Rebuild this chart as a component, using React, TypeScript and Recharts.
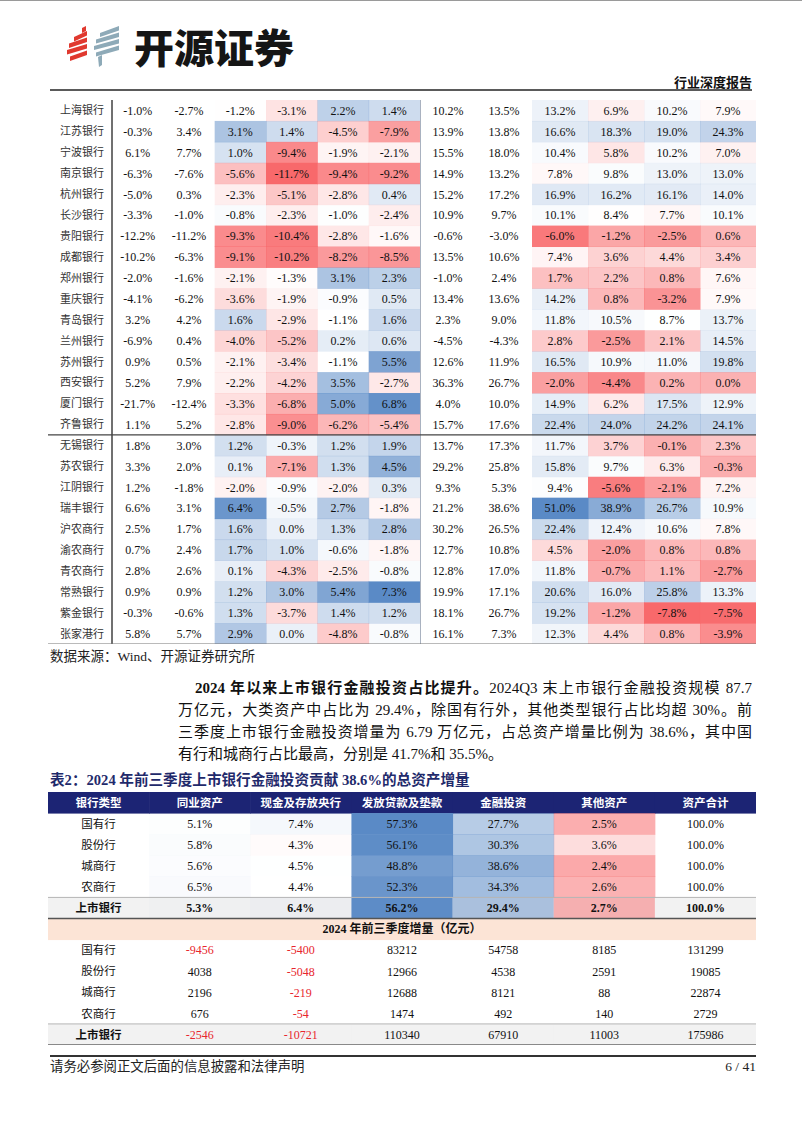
import React from "react";
import { ReferenceLine, Scatter, ScatterChart, XAxis, YAxis } from "recharts";

// ---- 表1（续）：上市银行指标，左右两个色阶区块 ----
const banks = [
  "上海银行", "江苏银行", "宁波银行", "南京银行", "杭州银行", "长沙银行", "贵阳银行", "成都银行",
  "郑州银行", "重庆银行", "青岛银行", "兰州银行", "苏州银行", "西安银行", "厦门银行", "齐鲁银行",
  "无锡银行", "苏农银行", "江阴银行", "瑞丰银行", "沪农商行", "渝农商行", "青农商行", "常熟银行",
  "紫金银行", "张家港行",
];

const l1 = [-1.0, -0.3, 6.1, -6.3, -5.0, -3.3, -12.2, -10.2, -2.0, -4.1, 3.2, -6.9, 0.9, 5.2, -21.7, 1.1, 1.8, 3.3, 1.2, 6.6, 2.5, 0.7, 2.8, 0.9, -0.3, 5.8];
const l2 = [-2.7, 3.4, 7.7, -7.6, 0.3, -1.0, -11.2, -6.3, -1.6, -6.2, 4.2, 0.4, 0.5, 7.9, -12.4, 5.2, 3.0, 2.0, -1.8, 3.1, 1.7, 2.4, 2.6, 0.9, -0.6, 5.7];
const l3 = [-1.2, 3.1, 1.0, -5.6, -2.3, -0.8, -9.3, -9.1, -2.1, -3.6, 1.6, -4.0, -2.1, -2.2, -3.3, -2.8, 1.2, 0.1, -2.0, 6.4, 1.6, 1.7, 0.1, 1.2, 1.3, 2.9];
const l4 = [-3.1, 1.4, -9.4, -11.7, -5.1, -2.3, -10.4, -10.2, -1.3, -1.9, -2.9, -5.2, -3.4, -4.2, -6.8, -9.0, -0.3, -7.1, -0.9, -0.5, 0.0, 1.0, -4.3, 3.0, -3.7, 0.0];
const l5 = [2.2, -4.5, -1.9, -9.4, -2.8, -1.0, -2.8, -8.2, 3.1, -0.9, -1.1, 0.2, -1.1, 3.5, 5.0, -6.2, 1.2, 1.3, -2.0, 2.7, 1.3, -0.6, -2.5, 5.4, 1.4, -4.8];
const l6 = [1.4, -7.9, -2.1, -9.2, 0.4, -2.4, -1.6, -8.5, 2.3, 0.5, 1.6, 0.6, 5.5, -2.7, 6.8, -5.4, 1.9, 4.5, 0.3, -1.8, 2.8, -1.8, -0.8, 7.3, 1.2, -0.8];

const r1 = [10.2, 13.9, 15.5, 14.9, 15.2, 10.9, -0.6, 13.5, -1.0, 13.4, 2.3, -4.5, 12.6, 36.3, 4.0, 15.7, 13.7, 29.2, 9.3, 21.2, 30.2, 12.7, 12.8, 19.9, 18.1, 16.1];
const r2 = [13.5, 13.8, 18.0, 13.2, 17.2, 9.7, -3.0, 10.6, 2.4, 13.6, 9.0, -4.3, 11.9, 26.7, 10.0, 17.6, 17.3, 25.8, 5.3, 38.6, 26.5, 10.8, 17.0, 17.1, 26.7, 7.3];
const r3 = [13.2, 16.6, 10.4, 7.8, 16.9, 10.1, -6.0, 7.4, 1.7, 14.2, 11.8, 2.8, 16.5, -2.0, 14.9, 22.4, 11.7, 15.8, 9.4, 51.0, 22.4, 4.5, 11.8, 20.6, 19.2, 12.3];
const r4 = [6.9, 18.3, 5.8, 9.8, 16.2, 8.4, -1.2, 3.6, 2.2, 0.8, 10.5, -2.5, 10.9, -4.4, 6.2, 24.0, 3.7, 9.7, -5.6, 38.9, 12.4, -2.0, -0.7, 16.0, -1.2, 4.4];
const r5 = [10.2, 19.0, 10.2, 13.0, 16.1, 7.7, -2.5, 4.4, 0.8, -3.2, 8.7, 2.1, 11.0, 0.2, 17.5, 24.2, -0.1, 6.3, -2.1, 26.7, 10.6, 0.8, 1.1, 25.8, -7.8, 0.8];
const r6 = [7.9, 24.3, 7.0, 13.0, 14.0, 10.1, 0.6, 3.4, 7.6, 7.9, 13.7, 14.5, 19.8, 0.0, 12.9, 24.1, 2.3, -0.3, 7.2, 10.9, 7.8, 0.8, -2.7, 13.3, -7.5, -3.9];

// ---- 表2 ----
const bankTypes = ["国有行", "股份行", "城商行", "农商行", "上市银行"];
const assetHeads = ["同业资产", "现金及存放央行", "发放贷款及垫款", "金融投资", "其他资产", "资产合计"];

const shareInterbank = [5.1, 5.8, 5.6, 6.5, 5.3];
const shareCash = [7.4, 4.3, 4.5, 4.4, 6.4];
const shareLoan = [57.3, 56.1, 48.8, 52.3, 56.2];
const shareInvest = [27.7, 30.3, 38.6, 34.3, 29.4];
const shareOther = [2.5, 3.6, 2.4, 2.6, 2.7];
const shareTotal = [100.0, 100.0, 100.0, 100.0, 100.0];

const incInterbank = [-9456, 4038, 2196, 676, -2546];
const incCash = [-5400, -5048, -219, -54, -10721];
const incLoan = [83212, 12966, 12688, 1474, 110340];
const incInvest = [54758, 4538, 8121, 492, 67910];
const incOther = [8185, 2591, 88, 140, 11003];
const incTotal = [131299, 19085, 22874, 2729, 175986];

const SERIF = '"Liberation Serif", "Noto Sans CJK SC", serif';
const CJK = '"Noto Sans CJK SC", sans-serif';
const NAVY = "#1c2474";
const PEACH = "#fce4d6";
const ZEBRA = "#f2f2f2";
const NEG_RED = "#e8262d";

function median(values: number[]) {
  const s = [...values].sort((a, b) => a - b);
  const m = Math.floor(s.length / 2);
  return s.length % 2 ? s[m] : (s[m - 1] + s[m]) / 2;
}

// 三色阶：红 - 白 - 蓝
function heat(v: number, lo: number, mid: number, hi: number) {
  if (v >= mid) {
    const t = hi === mid ? 0 : Math.min(1, (v - mid) / (hi - mid));
    return `rgba(90,138,198,${t.toFixed(3)})`;
  }
  const t = Math.min(1, (mid - v) / (mid - lo));
  return `rgba(248,105,107,${t.toFixed(3)})`;
}

type Cell1 = { row: number; col: number; v: number; fill: string | null };

function blockCells(cols: number[][], heatFrom: number): Cell1[] {
  const hv = cols.slice(heatFrom).flat();
  const lo = Math.min(...hv);
  const hi = Math.max(...hv);
  const mid = median(hv);
  return cols.flatMap((col, c) =>
    col.map((v, r) => ({ row: r, col: c, v, fill: c >= heatFrom ? heat(v, lo, mid, hi) : null }))
  );
}

const leftCells = blockCells([l1, l2, l3, l4, l5, l6], 2);
const rightCells = blockCells([r1, r2, r3, r4, r5, r6], 2);
const bankIdx = banks.map((_, i) => i);

const T1_TOP = 99.5;
const T1_H = 544.2;
const RH1 = T1_H / banks.length;
const NAME_W = 64;
const CWL = 308 / 6;
const CWR = 336 / 6;

const cellShape = (cw: number) => (p: any) => {
  const { cx, cy, payload } = p;
  return (
    <g>
      {payload.fill && (
        <rect x={cx - cw / 2} y={cy - RH1 / 2} width={cw + 0.5} height={RH1 + 0.5} fill={payload.fill} />
      )}
      <text x={cx} y={cy} dy="0.36em" textAnchor="middle" fontSize={12} fontFamily={SERIF} fill="#111">
        {payload.v.toFixed(1)}%
      </text>
    </g>
  );
};

// 表2 单元格
type Cell2 = {
  row: number;
  col: number;
  kind: "head" | "name" | "pct" | "num" | "title";
  text: string;
  total?: boolean;
  fill?: string | null;
  neg?: boolean;
};

const shareCols = [shareInterbank, shareCash, shareLoan, shareInvest, shareOther, shareTotal];
const incCols = [incInterbank, incCash, incLoan, incInvest, incOther, incTotal];
const T2_LO = 0.9;
const T2_MID = 4.4;
const t2Hi = Math.max(...shareCols.slice(0, 5).flat());

const t2Cells: Cell2[] = [];
t2Cells.push({ row: 0, col: -1, kind: "head", text: "银行类型" });
assetHeads.forEach((h, c) => t2Cells.push({ row: 0, col: c, kind: "head", text: h }));
bankTypes.forEach((b, i) => {
  const total = i === bankTypes.length - 1;
  t2Cells.push({ row: 1 + i, col: -1, kind: "name", text: b, total });
  shareCols.forEach((col, c) =>
    t2Cells.push({
      row: 1 + i,
      col: c,
      kind: "pct",
      text: `${col[i].toFixed(1)}%`,
      total,
      fill: c < 5 ? heat(col[i], T2_LO, T2_MID, t2Hi) : null,
    })
  );
});
t2Cells.push({ row: 6, col: 2, kind: "title", text: "2024 年前三季度增量（亿元）" });
bankTypes.forEach((b, i) => {
  const total = i === bankTypes.length - 1;
  t2Cells.push({ row: 7 + i, col: -1, kind: "name", text: b, total });
  incCols.forEach((col, c) =>
    t2Cells.push({ row: 7 + i, col: c, kind: "num", text: String(col[i]), total, neg: col[i] < 0 })
  );
});

const T2_W = 708;
const T2_H = 253;
const CW2 = T2_W / 7;
const RH2 = T2_H / 12;

function t2Shape(p: any) {
  const { cx, cy } = p;
  const d: Cell2 = p.payload;
  const x0 = cx - CW2 / 2;
  const y0 = cy - RH2 / 2;
  if (d.kind === "title") {
    return (
      <g>
        <rect x={cx - 3.5 * CW2} y={y0} width={7 * CW2} height={RH2 + 0.5} fill={PEACH} />
        <text x={cx} y={cy} dy="0.36em" textAnchor="middle" fontSize={12} fontWeight={700} fontFamily={SERIF} fill="#111">
          {d.text}
        </text>
      </g>
    );
  }
  const bg = d.kind === "head" ? NAVY : d.total ? ZEBRA : null;
  const color = d.kind === "head" ? "#fff" : d.neg ? NEG_RED : "#111";
  // 增量部分的合计行只有名称加粗
  const bold = d.kind === "head" || (d.total && d.kind !== "num");
  return (
    <g>
      {bg && <rect x={x0} y={y0} width={CW2 + 0.6} height={RH2 + 0.5} fill={bg} />}
      {d.fill && <rect x={x0} y={y0} width={CW2 + 0.5} height={RH2 + 0.5} fill={d.fill} />}
      <text
        x={cx}
        y={cy}
        dy="0.36em"
        textAnchor="middle"
        fontSize={d.kind === "head" || d.kind === "name" ? 11.5 : 12}
        fontWeight={bold ? 700 : 400}
        fontFamily={d.kind === "head" ? CJK : SERIF}
        fill={color}
      >
        {d.text}
      </text>
    </g>
  );
}

function Logo() {
  const redBars = [
    [14, 17],
    [9, 23.5],
    [7, 30],
    [10, 36.5],
  ];
  const blueBars = [
    [40, 13],
    [36, 19.5],
    [34, 26],
    [36, 32.5],
  ];
  return (
    <svg width={72} height={52} style={{ position: "absolute", left: 60, top: 20 }}>
      <polygon points="22,8 26,6 26,11 22,13" fill="#e0392f" />
      {redBars.map(([lx, yl], i) => (
        <polygon key={`r${i}`} points={`${lx},${yl} 27,${yl - 6} 27,${yl - 1.5} ${lx},${yl + 4.5}`} fill="#e0392f" />
      ))}
      {blueBars.map(([lx, yl], i) => (
        <polygon key={`b${i}`} points={`${lx},${yl} 59,${yl - 7} 59,${yl - 2.5} ${lx},${yl + 4}`} fill="#8eaab8" />
      ))}
      <polygon points="38,37 42,35 42,45 39,47" fill="#8eaab8" />
    </svg>
  );
}

const abs = (style: React.CSSProperties): React.CSSProperties => ({ position: "absolute", ...style });

export default function App() {
  return (
    <div style={abs({ left: 0, top: 0, width: 802, height: 1133, background: "#fff", overflow: "hidden", fontFamily: SERIF, color: "#111" })}>
      <div style={abs({ left: 0, top: 0, width: 802, height: 1, background: "#9a9a9a" })} />
      <Logo />
      <div style={abs({ left: 134, top: 24, fontFamily: CJK, fontSize: 40, fontWeight: 900, lineHeight: "44px", color: "#151515" })}>
        开源证券
      </div>
      <div style={abs({ right: 50, top: 75, fontSize: 13, fontWeight: 700, lineHeight: "16px" })}>行业深度报告</div>
      <div style={abs({ left: 50, top: 89, width: 702, height: 2, background: "#5a5a5a" })} />

      {/* 表1 左区块（含银行名称） */}
      <div style={abs({ left: 48, top: T1_TOP })}>
        <ScatterChart width={NAME_W + 308} height={T1_H} margin={{ top: 0, right: 0, bottom: 0, left: 0 }}>
          <XAxis type="number" dataKey="col" domain={[-0.5, 5.5]} allowDataOverflow hide />
          <YAxis
            type="number"
            dataKey="row"
            domain={[-0.5, banks.length - 0.5]}
            allowDataOverflow
            reversed
            width={NAME_W}
            ticks={bankIdx}
            interval={0}
            tickFormatter={(i: number) => banks[i]}
            tickSize={0}
            tickMargin={8}
            tickLine={false}
            axisLine={{ stroke: "#111", strokeWidth: 1.2 }}
            tick={{ fontSize: 11, fill: "#333", fontFamily: SERIF }}
          />
          <Scatter data={leftCells} shape={cellShape(CWL)} isAnimationActive={false} />
          <ReferenceLine
            segment={[{ x: -0.5 - NAME_W / CWL, y: 15.5 }, { x: 5.5, y: 15.5 }]}
            stroke="#444"
            strokeWidth={1.2}
            ifOverflow="visible"
            zIndex={700}
          />
          <ReferenceLine
            segment={[{ x: -0.5 - NAME_W / CWL, y: banks.length - 0.5 }, { x: 5.5, y: banks.length - 0.5 }]}
            stroke="#777"
            strokeWidth={1.5}
            ifOverflow="visible"
            zIndex={700}
          />
        </ScatterChart>
      </div>

      {/* 表1 右区块 */}
      <div style={abs({ left: 420, top: T1_TOP })}>
        <ScatterChart width={336} height={T1_H} margin={{ top: 0, right: 0, bottom: 0, left: 0 }}>
          <XAxis type="number" dataKey="col" domain={[-0.5, 5.5]} allowDataOverflow hide />
          <YAxis type="number" dataKey="row" domain={[-0.5, banks.length - 0.5]} allowDataOverflow reversed hide />
          <Scatter data={rightCells} shape={cellShape(CWR)} isAnimationActive={false} />
          <ReferenceLine x={-0.5} stroke="#8d99ab" strokeWidth={1.5} zIndex={700} />
          <ReferenceLine y={15.5} stroke="#444" strokeWidth={1.2} zIndex={700} />
          <ReferenceLine y={banks.length - 0.5} stroke="#777" strokeWidth={1.5} zIndex={700} />
        </ScatterChart>
      </div>

      <div style={abs({ left: 50, top: 648, fontSize: 13.5, lineHeight: "18px", color: "#222" })}>数据来源：Wind、开源证券研究所</div>

      {/* 正文 */}
      <div style={abs({ left: 178, top: 677, width: 574, fontSize: 15, lineHeight: "22px", textAlign: "justify", textAlignLast: "justify", paddingLeft: 17, boxSizing: "border-box" })}>
        <b>2024 年以来上市银行金融投资占比提升。</b>2024Q3 末上市银行金融投资规模 87.7
      </div>
      <div style={abs({ left: 178, top: 699, width: 574, fontSize: 15, lineHeight: "22px", textAlign: "justify", textAlignLast: "justify" })}>
        万亿元，大类资产中占比为 29.4%，除国有行外，其他类型银行占比均超 30%。前
      </div>
      <div style={abs({ left: 178, top: 721, width: 574, fontSize: 15, lineHeight: "22px", textAlign: "justify", textAlignLast: "justify" })}>
        三季度上市银行金融投资增量为 6.79 万亿元，占总资产增量比例为 38.6%，其中国
      </div>
      <div style={abs({ left: 178, top: 743, width: 574, fontSize: 15, lineHeight: "22px" })}>
        有行和城商行占比最高，分别是 41.7%和 35.5%。
      </div>

      <div style={abs({ left: 50, top: 771, fontSize: 14.6, fontWeight: 700, lineHeight: "18px", color: "#1f2a6b" })}>
        表2：2024 年前三季度上市银行金融投资贡献 38.6%的总资产增量
      </div>

      {/* 表2 */}
      <div style={abs({ left: 48, top: 792 })}>
        <ScatterChart width={T2_W} height={T2_H} margin={{ top: 0, right: 0, bottom: 0, left: 0 }}>
          <XAxis type="number" dataKey="col" domain={[-1.5, 5.5]} allowDataOverflow hide />
          <YAxis type="number" dataKey="row" domain={[-0.5, 11.5]} allowDataOverflow reversed hide />
          <Scatter data={t2Cells} shape={t2Shape} isAnimationActive={false} />
          <ReferenceLine y={4.5} stroke="#b5b5b5" strokeWidth={1} zIndex={700} />
          <ReferenceLine y={5.5} stroke="#555" strokeWidth={1.5} zIndex={700} />
          <ReferenceLine y={10.5} stroke="#b5b5b5" strokeWidth={1} zIndex={700} />
          <ReferenceLine y={11.5} stroke="#666" strokeWidth={1.5} zIndex={700} />
        </ScatterChart>
      </div>

      {/* 页脚 */}
      <div style={abs({ left: 50, top: 1055, width: 706, height: 1.5, background: "#333" })} />
      <div style={abs({ left: 50, top: 1058, fontSize: 13.4, lineHeight: "18px", color: "#222" })}>请务必参阅正文后面的信息披露和法律声明</div>
      <div style={abs({ right: 46, top: 1058, fontSize: 13.5, lineHeight: "18px", color: "#222" })}>6 / 41</div>
    </div>
  );
}
